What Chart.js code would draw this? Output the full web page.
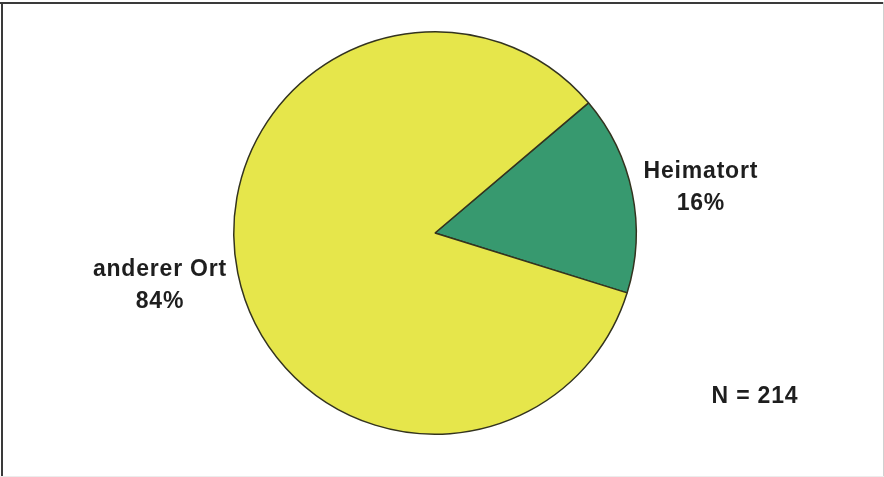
<!DOCTYPE html>
<html>
<head>
<meta charset="utf-8">
<script src="https://cdn.jsdelivr.net/npm/chart.js@4/dist/chart.umd.min.js"></script>
<style>
  html, body { margin: 0; padding: 0; background: #fff; }
  #wrap { position: relative; width: 884px; height: 477px; }
</style>
</head>
<body>
<div id="wrap"><canvas id="c" width="884" height="477"></canvas></div>
<script>
// ---- data ----
const categories = ["Heimatort", "anderer Ort"];
const shares = [16, 84];
const shareLabels = ["16%", "84%"];
const sampleNote = "N = 214";
const sliceColors = ["#37996F", "#E6E64B"];

const labelPlugin = {
  id: "pieLabels",
  beforeDraw(chart) {
    const ctx = chart.ctx;
    ctx.save();
    ctx.fillStyle = "#ffffff";
    ctx.fillRect(0, 0, chart.width, chart.height);
    // frame
    ctx.fillStyle = "#3a3a3a";
    ctx.fillRect(0, 2, chart.width, 2);
    ctx.fillRect(1, 2, 2, chart.height - 2);
    ctx.fillStyle = "#d0d0d0";
    ctx.fillRect(chart.width - 1, 2, 1, chart.height - 2);
    ctx.fillStyle = "#ececec";
    ctx.fillRect(0, chart.height - 1, chart.width, 1);
    ctx.restore();
  },
  afterDraw(chart) {
    const ctx = chart.ctx;
    const meta = chart.getDatasetMeta(0);
    const dist = [1.342, 1.39];
    const angAdj = [1.4, 1.0];
    ctx.save();
    ctx.fillStyle = "#1e1e1e";
    ctx.font = "bold 23px 'Liberation Sans', Arial, sans-serif";
    ctx.letterSpacing = "0.8px";
    ctx.textAlign = "center";
    ctx.textBaseline = "alphabetic";
    const capHalf = 8.2;
    meta.data.forEach((arc, i) => {
      const mid = (arc.startAngle + arc.endAngle) / 2 + angAdj[i] * Math.PI / 180;
      const r = arc.outerRadius * dist[i];
      const cx = arc.x + Math.cos(mid) * r;
      const cy = arc.y + Math.sin(mid) * r;
      ctx.fillText(categories[i], cx, cy - 16.3 + capHalf);
      ctx.fillText(shareLabels[i], cx, cy + 16.3 + capHalf);
    });
    ctx.fillText(sampleNote, 755, 403.3);
    ctx.restore();
  }
};

new Chart(document.getElementById("c"), {
  type: "pie",
  data: {
    labels: categories,
    datasets: [{
      data: shares,
      backgroundColor: sliceColors,
      borderColor: "#33331f",
      borderWidth: 1.5,
      hoverOffset: 0,
      offset: 0
    }]
  },
  options: {
    responsive: false,
    animation: false,
    devicePixelRatio: 1,
    rotation: 49.7,
    layout: { padding: { top: 31, bottom: 42, left: 233, right: 247 } },
    plugins: {
      legend: { display: false },
      tooltip: { enabled: false },
      title: { display: false }
    }
  },
  plugins: [labelPlugin]
});
</script>
</body>
</html>
